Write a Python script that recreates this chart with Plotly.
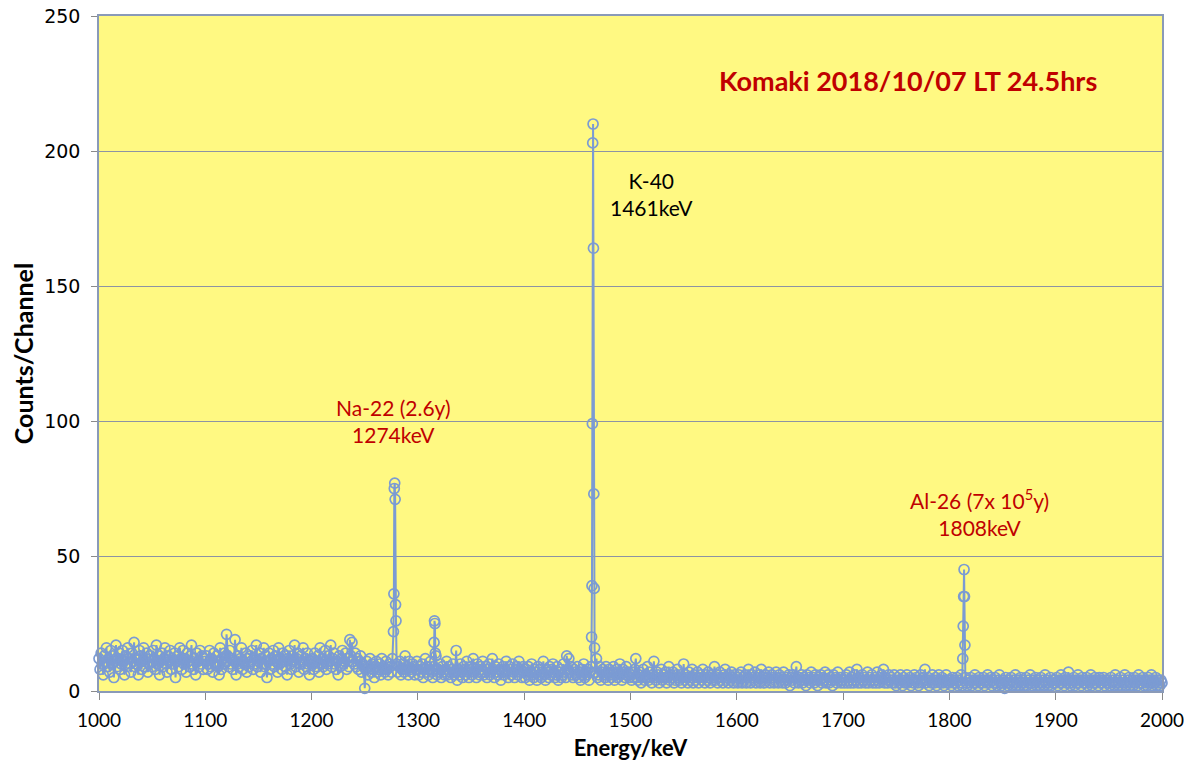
import numpy as np
import plotly.graph_objects as go

# Background counts per 1 keV step, one list per 100 keV
seg1000 = [12,8,14,10,6,13,11,16,9,12,7,15,10,13,5,11,17,9,12,14,8,10,15,11,6,13,9,16,12,10,
           7,14,11,18,9,12,10,6,15,13,8,11,16,9,12,14,7,10,13,11,
           9,15,12,8,17,10,13,6,11,14,9,12,16,10,7,13,11,15,8,12,
           10,14,5,11,13,9,16,12,8,15,10,12,7,14,11,9,13,17,10,8,
           12,6,14,11,9,15,10,13,8,12]
seg1100 = [11,13,8,10,15,9,12,7,14,10,11,13,9,6,16,8,12,10,14,11,
           21,13,9,15,10,12,8,11,19,6,10,13,9,12,16,8,11,10,14,7,
           12,9,13,11,15,8,10,12,17,9,11,14,7,12,10,16,9,13,5,11,
           14,8,12,10,15,9,13,11,7,16,10,12,8,14,11,9,13,6,12,15,
           10,8,13,11,17,9,12,14,7,10,13,11,16,8,12,9,14,10,6,11]
seg1200 = [10,12,8,14,11,9,13,7,16,10,12,9,11,15,8,10,13,11,17,9,
           12,14,10,8,11,6,13,9,12,15,10,11,14,8,12,9,19,13,18,11,
           10,14,9,12,8,11,13,7,10,9,1,8,11,6,9,12,7,10,8,5,
           9,11,7,8,10,6,12,8,9,7,11,8,6,10,9,7,12,8,6,9,
           10,7,9,11,6,8,10,7,13,8,9,6,11,8,7,10,9,6,8,11]
seg1300 = [8,6,9,7,10,5,8,12,7,9,6,8,11,7,5,9,8,13,6,8,
           7,10,5,9,7,6,8,11,6,9,7,5,8,10,6,7,15,4,8,6,
           10,7,5,9,8,6,11,7,5,8,9,6,12,7,8,5,10,7,6,9,
           8,11,6,7,9,5,8,10,6,7,12,8,5,9,7,6,10,8,4,7,
           9,6,8,11,7,5,9,8,6,10,7,5,8,9,6,11,7,8,5,9]
seg1400 = [7,5,8,6,9,4,7,10,6,5,8,7,4,9,6,8,5,7,11,6,
           4,8,7,5,9,6,8,10,7,5,6,9,4,7,8,5,6,10,7,5,
           13,8,12,7,9,6,5,8,7,6,9,5,7,4,8,6,10,5,7,6,
           8,4,7,9,5,6,8,7,12,5,6,9,4,7,8,6,5,9,7,4,
           8,6,5,7,9,4,6,8,5,7,10,6,4,8,7,5,9,6,7,5]
seg1500 = [6,4,7,5,8,12,5,4,6,7,3,5,8,4,6,5,9,4,7,5,
           3,6,11,5,4,7,6,3,5,8,4,6,5,7,3,5,9,4,6,5,
           7,3,4,6,8,5,4,6,3,5,10,4,6,5,3,7,4,5,8,3,
           6,4,5,7,3,5,6,4,8,5,3,6,4,7,5,3,6,4,5,9,
           4,6,3,5,7,4,5,3,6,8,4,5,3,6,4,7,5,3,6,4]
seg1600 = [5,3,6,4,7,3,5,4,6,3,5,8,4,3,6,5,4,7,3,5,
           4,6,3,8,4,5,3,6,4,5,7,3,4,6,5,3,4,7,5,3,
           6,4,5,3,7,4,3,5,4,6,2,5,4,6,3,5,9,4,3,5,
           4,6,3,5,4,2,6,4,5,3,7,4,5,3,6,4,2,5,4,6,
           3,5,4,7,3,4,6,3,5,4,2,6,4,5,3,7,4,5,3,4]
seg1700 = [4,3,5,6,3,4,7,3,5,4,3,6,4,8,3,5,4,3,6,4,
           5,3,4,7,3,5,4,6,3,4,5,3,7,4,3,5,6,4,8,3,
           5,4,3,6,4,5,3,4,6,3,2,5,4,3,6,4,2,5,3,4,
           6,3,4,5,2,4,3,6,4,5,3,2,4,6,3,5,4,8,3,4,
           5,2,4,3,6,4,3,5,2,4,6,3,4,5,3,2,4,6,3,4]
seg1800 = [3,4,2,5,3,4,3,5,2,4,3,6,2,4,3,5,3,2,4,3,
           5,2,4,3,6,3,4,2,5,3,4,3,5,2,4,3,6,4,3,5,
           2,4,3,5,3,2,4,6,3,2,3,4,1,5,3,2,4,3,5,2,
           4,3,6,2,3,4,2,5,3,4,2,3,5,2,4,3,6,3,2,4,
           3,5,2,4,3,2,5,3,4,2,6,3,4,2,3,5,2,4,3,4]
seg1900 = [3,5,2,4,3,6,3,4,2,5,3,4,7,3,2,4,3,5,2,4,
           3,6,3,4,2,5,3,4,3,5,2,4,3,6,2,4,3,5,3,4,
           2,5,3,4,3,5,2,4,3,4,3,2,5,3,4,2,6,3,4,2,
           3,5,2,4,3,6,2,3,4,5,2,3,4,2,5,3,4,2,6,3,
           4,3,5,2,4,3,2,5,4,3,6,2,4,3,5,2,4,3,2,4]
end_count = [3]

# Peak channels
na22_e = [1277.0, 1277.4, 1277.8, 1278.2, 1278.6, 1279.0, 1279.4]
na22_c = [22, 36, 75, 77, 71, 32, 26]
p1316_e = [1315.2, 1315.6, 1316.0, 1316.4]
p1316_c = [18, 26, 25, 14]
k40_e = [1463.4, 1463.75, 1464.1, 1464.45, 1464.8, 1465.15, 1465.5, 1465.85, 1466.2]
k40_c = [20, 39, 99, 203, 210, 164, 73, 38, 16]
al26_e = [1812.6, 1813.0, 1813.4, 1813.8, 1814.2, 1814.6]
al26_c = [12, 24, 35, 45, 35, 17]

bg_counts = seg1000 + seg1100 + seg1200 + seg1300 + seg1400 + seg1500 + seg1600 + seg1700 + seg1800 + seg1900 + end_count
bg_e = [1000 + i for i in range(len(bg_counts))]

peaks = [(na22_e, na22_c), (p1316_e, p1316_c), (k40_e, k40_c), (al26_e, al26_c)]
xs, ys = [], []
for e, c in zip(bg_e, bg_counts):
    if any(min(pe) <= e <= max(pe) for pe, _ in peaks):
        continue
    xs.append(e)
    ys.append(c)
for pe, pc in peaks:
    xs += pe
    ys += pc
order = np.argsort(xs, kind="stable")
xs = [xs[i] for i in order]
ys = [ys[i] for i in order]

col = "#7b9bd3"
fig = go.Figure()
fig.add_trace(go.Scatter(
    x=xs, y=ys, mode="lines+markers",
    line=dict(color=col, width=2),
    marker=dict(symbol="circle-open", size=10, color=col, line=dict(width=1.7, color=col)),
    showlegend=False, hoverinfo="x+y", cliponaxis=False,
))

red = "#c00000"
ann_font = dict(family="Lato, Carlito, sans-serif", size=21)
fig.add_annotation(x=1520, y=184, text="K-40<br>1461keV", showarrow=False,
                   font=dict(ann_font, color="black"), align="center")
fig.add_annotation(x=1277.5, y=100, text="Na-22 (2.6y)<br>1274keV", showarrow=False,
                   font=dict(ann_font, color=red), align="center")
fig.add_annotation(x=1828, y=66, text="Al-26 (7x 10<sup>5</sup>y)<br>1808keV", showarrow=False,
                   font=dict(ann_font, color=red), align="center")
fig.add_annotation(x=1761, y=226, text="<b>Komaki 2018/10/07 LT 24.5hrs</b>", showarrow=False,
                   font=dict(family="Lato, sans-serif", size=27, color=red))

# page body has an 8 px margin, so the figure is offset by 8 px
fig.update_layout(
    width=1176, height=753,
    margin=dict(l=91, r=22, t=8, b=70, autoexpand=False),
    paper_bgcolor="white",
    plot_bgcolor="#fff982",
    xaxis=dict(
        range=[1000, 2000], dtick=100, tick0=1000, automargin=False,
        showgrid=False, zeroline=False,
        showline=True, linecolor="#8a9ab8", linewidth=1.5, mirror=True,
        ticks="outside", ticklen=7, tickcolor="#8a8a8a",
        ticklabelstandoff=4, ticklabeloverflow="allow",
        tickfont=dict(family="Lato, sans-serif", size=19, color="black"),
        title=dict(text="<b>Energy/keV</b>", font=dict(family="Lato, sans-serif", size=22, color="black"), standoff=22),
    ),
    yaxis=dict(
        range=[0, 250], dtick=50, automargin=False,
        showgrid=True, gridcolor="#8d93a3", gridwidth=1,
        zeroline=False,
        showline=True, linecolor="#8a9ab8", linewidth=1.5, mirror=True,
        ticks="outside", ticklen=6, tickcolor="#8a8a8a",
        ticklabelstandoff=7, ticklabeloverflow="allow",
        tickfont=dict(family="DejaVu Sans, sans-serif", size=19, color="black"),
        title=dict(text="<b>Counts/Channel</b>", font=dict(family="Lato, sans-serif", size=25, color="black"), standoff=8),
    ),
)

fig.write_html("out.html")
